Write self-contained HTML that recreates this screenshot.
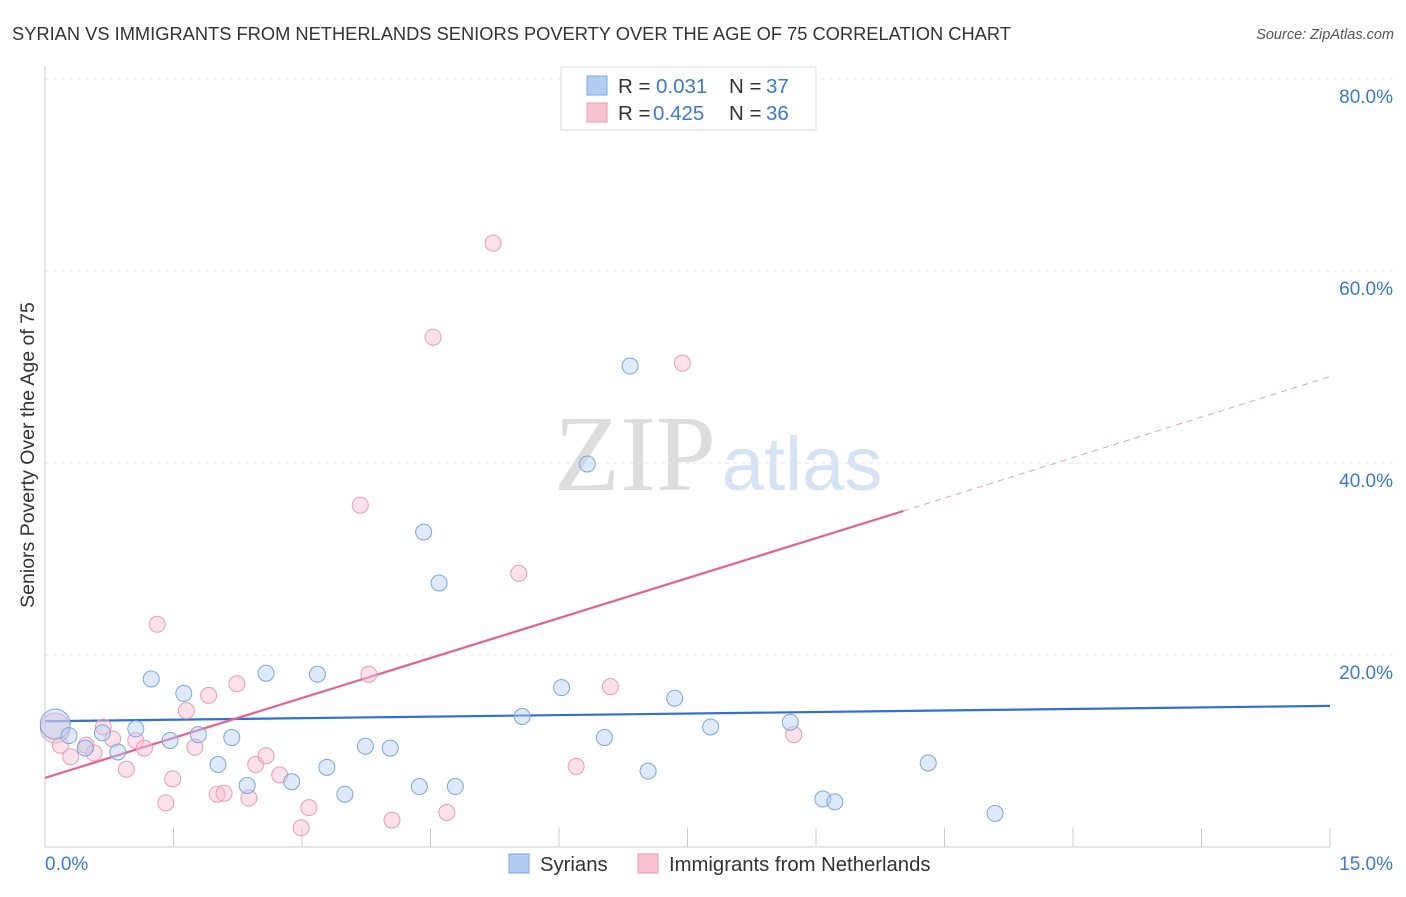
<!DOCTYPE html>
<html><head><meta charset="utf-8"><style>
body{margin:0;background:#fff;font-family:"Liberation Sans",sans-serif;}
svg text{font-family:"Liberation Sans",sans-serif;}
</style></head><body>
<svg id="chart" width="1406" height="892" viewBox="0 0 1406 892">
<text x="12" y="40" font-size="18.3" fill="#333">SYRIAN VS IMMIGRANTS FROM NETHERLANDS SENIORS POVERTY OVER THE AGE OF 75 CORRELATION CHART</text>
<text x="1394" y="39" font-size="14.5" fill="#555" font-style="italic" text-anchor="end">Source: ZipAtlas.com</text>
<g>
<text x="635" y="490" font-size="108" fill="#ddd" text-anchor="middle" font-family="Liberation Serif" style="font-family:'Liberation Serif',serif">ZIP</text>
<text x="802" y="490" font-size="76" fill="#d5e3f5" text-anchor="middle">atlas</text>
</g>
<g id="grid"></g>
<g id="axes"></g>
<g id="trends"></g>
<g id="pts"></g>
<g>
<rect x="561" y="67" width="255" height="63" fill="#fff" stroke="#ddd"/>
<rect x="587" y="76" width="20" height="19" fill="#b3cdf2" stroke="#7aa6e0"/>
<text x="618" y="93" font-size="20.5" fill="#333">R = </text><text x="656" y="93" font-size="20.5" fill="#3b78d8">0.031</text>
<text x="729" y="93" font-size="20.5" fill="#333">N = </text><text x="766" y="93" font-size="20.5" fill="#3b78d8">37</text>
<rect x="587" y="103" width="20" height="19" fill="#f7c3d3" stroke="#ee9ab4"/>
<text x="618" y="120" font-size="20.5" fill="#333">R = </text><text x="653" y="120" font-size="20.5" fill="#3b78d8">0.425</text>
<text x="729" y="120" font-size="20.5" fill="#333">N = </text><text x="766" y="120" font-size="20.5" fill="#3b78d8">36</text>
</g>
<g>
<rect x="509" y="854" width="20" height="19" fill="#b3cdf2" stroke="#7aa6e0"/>
<text x="540" y="871" font-size="20.3" fill="#333">Syrians</text>
<rect x="638" y="854" width="20" height="19" fill="#f7c3d3" stroke="#ee9ab4"/>
<text x="669" y="871" font-size="20.3" fill="#333">Immigrants from Netherlands</text>
</g>
<text transform="translate(34,455) rotate(-90)" font-size="19.5" fill="#333" text-anchor="middle">Seniors Poverty Over the Age of 75</text>
</svg>
<script>
const yTicks=[20,40,60,80];
const yTickLabels=["20.0%","40.0%","60.0%","80.0%"];
const xTicks=[0,1.5,3,4.5,6,7.5,9,10.5,12,13.5,15];
const blueX=[0.12,0.28,0.47,0.67,0.85,1.06,1.24,1.46,1.62,1.79,2.02,2.18,2.36,2.58,2.88,3.18,3.29,3.50,3.74,4.03,4.37,4.42,4.60,4.79,5.57,6.03,6.33,6.53,6.83,7.04,7.35,7.77,8.70,9.08,9.22,10.31,11.09];
const blueY=[12.8,11.6,10.3,11.9,9.9,12.3,17.5,11.1,16.0,11.7,8.6,11.4,6.4,18.1,6.8,18.0,8.3,5.5,10.5,10.3,6.3,32.8,27.5,6.3,13.6,16.6,39.9,11.4,50.1,7.9,15.5,12.5,13.0,5.0,4.7,8.75,3.5];
const pinkX=[0.12,0.18,0.30,0.48,0.57,0.68,0.79,0.95,1.06,1.16,1.31,1.41,1.49,1.65,1.75,1.91,2.01,2.09,2.24,2.38,2.46,2.58,2.74,2.99,3.08,3.68,3.78,4.05,4.53,4.69,5.23,5.53,6.20,6.60,7.44,8.74];
const pinkY=[12.4,10.6,9.4,10.6,9.8,12.5,11.25,8.1,11.1,10.3,23.2,4.6,7.1,14.2,10.4,15.8,5.5,5.6,17.0,5.1,8.6,9.5,7.5,2.0,4.1,35.6,18.0,2.8,53.1,3.6,62.9,28.5,8.4,16.7,50.4,11.7];
const blueTrend=[13.1,14.7];
const pinkTrend=[7.2,35.0,49.0];
const pinkSolidEnd=10.02;
const NS="http://www.w3.org/2000/svg";
const X=v=>45+v/15*1285, Y=v=>847-v*9.6;
function mk(t,a,p){const e=document.createElementNS(NS,t);for(const k in a)e.setAttribute(k,a[k]);p.appendChild(e);return e;}
const grid=document.getElementById('grid'),axes=document.getElementById('axes');
yTicks.forEach((t,i)=>{
 const l=mk('line',{x1:45,x2:1394,y1:Y(t),y2:Y(t),stroke:'#e4e4e4','stroke-dasharray':'4,4'},grid);
 
 
 const tx=mk('text',{x:1393,y:Y(t)+24,'font-size':19,fill:'#3b78d8','text-anchor':'end'},axes);
 tx.textContent=yTickLabels[i];
 
 
});
const ax=mk('line',{x1:45,x2:45,y1:66,y2:847,stroke:'#ccc'},axes);


const xa=mk('line',{x1:45,x2:1330,y1:847,y2:847,stroke:'#ccc'},axes);


xTicks.forEach(t=>{const l=mk('line',{x1:X(t),x2:X(t),y1:828,y2:847,stroke:'#ccc'},axes);
 
 });
const x0=mk('text',{x:45,y:870,'font-size':19,fill:'#3b78d8'},axes);x0.textContent='0.0%';


const x1=mk('text',{x:1393,y:870,'font-size':19,fill:'#3b78d8','text-anchor':'end'},axes);x1.textContent='15.0%';


const tr=document.getElementById('trends'),pts=document.getElementById('pts');
function dots(xs,ys,fill,stroke,name){xs.forEach((x,i)=>{const c=mk('circle',{cx:X(x),cy:Y(ys[i]),r:i===0?15:8,fill:fill,stroke:stroke,'stroke-width':1,'fill-opacity':0.45},pts);
 
 });}
dots(pinkX,pinkY,'#f6bfd0','#ee9ab4','point-netherlands');
dots(blueX,blueY,'#b5cff2','#7aa6e0','point-syrians');
const bl=mk('line',{x1:X(0),y1:Y(blueTrend[0]),x2:X(15),y2:Y(blueTrend[1]),stroke:'#2f6fd6','stroke-width':2.2},tr);


const pl=mk('line',{x1:X(0),y1:Y(pinkTrend[0]),x2:X(pinkSolidEnd),y2:Y(pinkTrend[1]),stroke:'#e8608e','stroke-width':2.2},tr);


const pd=mk('line',{x1:X(pinkSolidEnd),y1:Y(pinkTrend[1]),x2:X(15),y2:Y(pinkTrend[2]),stroke:'#e8a0b8','stroke-width':1,'stroke-dasharray':'6,5'},tr);


</script>
</body></html>
